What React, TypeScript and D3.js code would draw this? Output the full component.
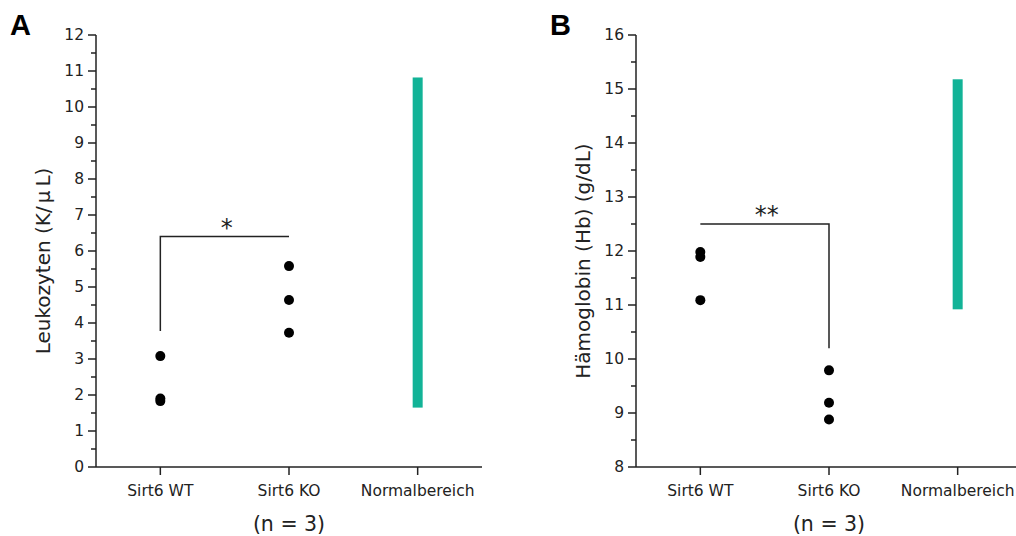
import React from "react";
import * as d3 from "d3";

const categories = ["Sirt6 WT", "Sirt6 KO", "Normalbereich"];

const leukoWT = [3.08, 1.9, 1.83];
const leukoKO = [5.58, 4.64, 3.73];
const leukoNormal = [1.65, 10.82];
const leukoTicks = d3.range(0, 13, 1);
const leukoBracket = { y: 6.4, fromY: 3.78, label: "*" };

const hbWT = [11.98, 11.89, 11.09];
const hbKO = [9.79, 9.19, 8.88];
const hbNormal = [10.92, 15.18];
const hbTicks = d3.range(8, 17, 1);
const hbBracket = { y: 12.5, toY: 10.2, label: "**" };

const W = 1016;
const H = 536;
const FONT = "DejaVu Sans, Verdana, sans-serif";
const AX = "#222";
const TEAL = "#12b397";

type PanelProps = {
  x0: number;
  letter: string;
  yDomain: [number, number];
  ticks: number[];
  title: React.ReactNode;
  wt: number[];
  ko: number[];
  normal: number[];
  bracket: { y: number; fromY?: number; toY?: number; label: string };
};

function Panel({ x0, letter, yDomain, ticks, title, wt, ko, normal, bracket }: PanelProps) {
  const x = d3.scalePoint<string>().domain(categories).range([x0, x0 + 386]).padding(0.5);
  const y = d3.scaleLinear().domain(yDomain).range([467, 35]);
  const minor = d3.range(yDomain[0] + 0.5, yDomain[1], 1);
  const xw = x(categories[0])!;
  const xk = x(categories[1])!;
  const xn = x(categories[2])!;
  const mid = (xw + xk) / 2;
  return (
    <g>
      <text x={x0 - 86} y={35} fontFamily="Liberation Sans, Arial, sans-serif" fontWeight="bold" fontSize={29} fill="#000">
        {letter}
      </text>
      {/* y axis */}
      <line x1={x0} x2={x0} y1={y(yDomain[0])} y2={y(yDomain[1])} stroke={AX} strokeWidth={1.5} />
      {ticks.map((t) => (
        <g key={"t" + t}>
          <line x1={x0 - 8} x2={x0} y1={y(t)} y2={y(t)} stroke={AX} strokeWidth={1.5} />
          <text x={x0 - 12} y={y(t)} dy="0.35em" textAnchor="end" fontFamily={FONT} fontSize={15.5} fill="#222">
            {t}
          </text>
        </g>
      ))}
      {minor.map((t) => (
        <line key={"m" + t} x1={x0 - 5} x2={x0} y1={y(t)} y2={y(t)} stroke={AX} strokeWidth={1.5} />
      ))}
      <text
        transform={`translate(${x0 - 46},${261}) rotate(-90)`}
        textAnchor="middle"
        fontFamily={FONT}
        fontSize={20}
        fill="#222"
      >
        {title}
      </text>
      {/* x axis */}
      <line x1={x0} x2={x0 + 386} y1={467} y2={467} stroke={AX} strokeWidth={1.5} />
      {categories.map((c) => (
        <g key={c}>
          <line x1={x(c)!} x2={x(c)!} y1={467} y2={475} stroke={AX} strokeWidth={1.5} />
          <text x={x(c)!} y={496} textAnchor="middle" fontFamily={FONT} fontSize={15.5} fill="#222">
            {c}
          </text>
        </g>
      ))}
      <text x={xk} y={531} textAnchor="middle" fontFamily={FONT} fontSize={20.5} fill="#222">
        (n = 3)
      </text>
      {/* normal range */}
      <rect x={xn - 5} width={10} y={y(normal[1])} height={y(normal[0]) - y(normal[1])} fill={TEAL} />
      {/* dots */}
      {wt.map((v, i) => (
        <circle key={"w" + i} cx={xw} cy={y(v)} r={5} fill="#000" />
      ))}
      {ko.map((v, i) => (
        <circle key={"k" + i} cx={xk} cy={y(v)} r={5} fill="#000" />
      ))}
      {/* bracket */}
      <path
        d={
          bracket.fromY !== undefined
            ? `M${xw},${y(bracket.fromY)}V${y(bracket.y)}H${xk}`
            : `M${xw},${y(bracket.y)}H${xk}V${y(bracket.toY!)}`
        }
        fill="none"
        stroke={AX}
        strokeWidth={1.5}
      />
      <text x={mid + 2} y={y(bracket.y) - 1} textAnchor="middle" fontFamily={FONT} fontSize={24} fill="#222">
        {bracket.label}
      </text>
    </g>
  );
}

export default function App() {
  return (
    <svg width={W} height={H} style={{ display: "block", position: "absolute", left: 0, top: 0, background: "#fff" }}>
      <rect width={W} height={H} fill="#fff" />
      <Panel
        x0={96}
        letter="A"
        yDomain={[0, 12]}
        ticks={leukoTicks}
        title={
          <>
            Leukozyten (K/<tspan dx={3}>µ</tspan>
            <tspan dx={4}>L)</tspan>
          </>
        }
        wt={leukoWT}
        ko={leukoKO}
        normal={leukoNormal}
        bracket={leukoBracket}
      />
      <Panel
        x0={636}
        letter="B"
        yDomain={[8, 16]}
        ticks={hbTicks}
        title="Hämoglobin (Hb) (g/dL)"
        wt={hbWT}
        ko={hbKO}
        normal={hbNormal}
        bracket={hbBracket}
      />
    </svg>
  );
}
